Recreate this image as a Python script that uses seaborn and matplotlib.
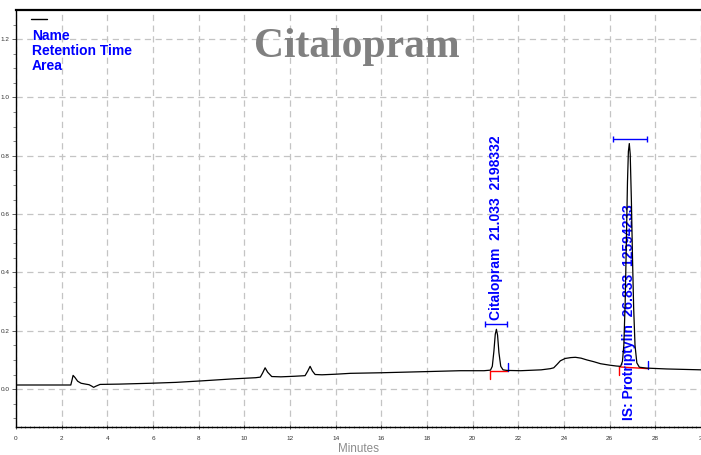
import matplotlib
matplotlib.use("Agg")
import matplotlib.pyplot as plt
import seaborn as sns
import pandas as pd

# Detector trace: retention time (min) and signal (AU)
time_min = [
    0.0, 1.0, 2.0, 2.40, 2.45, 2.50, 2.58, 2.70, 2.85, 3.05, 3.20, 3.32, 3.40, 3.50, 3.68,
    4.5, 5.9, 7.0, 8.1, 9.5, 10.5, 10.70, 10.80, 10.91, 11.02, 11.20, 11.6, 12.2, 12.66,
    12.78, 12.88, 12.98, 13.10, 13.4, 14.0, 14.64, 16.0, 18.0, 19.46, 20.5, 20.78,
    20.86, 20.93, 20.99, 21.04, 21.09, 21.15, 21.23, 21.33, 21.50, 22.1, 23.0, 23.4,
    23.55, 23.70, 23.84, 24.05, 24.30, 24.50, 24.75, 25.00, 25.30, 25.60, 26.00, 26.30,
    26.48, 26.56, 26.62, 26.68, 26.73, 26.78, 26.82, 26.86, 26.90, 26.95, 27.00, 27.05,
    27.11, 27.19, 27.30, 27.6, 28.5, 30.0,
]
signal_au = [
    0.014, 0.014, 0.014, 0.014, 0.030, 0.047, 0.040, 0.027, 0.020, 0.017, 0.015, 0.010, 0.006, 0.010, 0.016,
    0.017, 0.020, 0.023, 0.028, 0.035, 0.039, 0.041, 0.055, 0.073, 0.058, 0.043, 0.042, 0.044, 0.046,
    0.062, 0.078, 0.062, 0.050, 0.049, 0.051, 0.054, 0.056, 0.060, 0.063, 0.063, 0.065,
    0.078, 0.130, 0.188, 0.205, 0.185, 0.125, 0.078, 0.066, 0.064, 0.063, 0.066, 0.070,
    0.073, 0.085, 0.097, 0.105, 0.108, 0.109, 0.106, 0.100, 0.094, 0.087, 0.082, 0.079,
    0.078, 0.095, 0.150, 0.300, 0.500, 0.710, 0.815, 0.842, 0.805, 0.650, 0.450, 0.280,
    0.150, 0.090, 0.075, 0.072, 0.069, 0.066,
]

# Integrated peaks
peak_names = ["Citalopram", "IS: Protriptylin"]
peak_rt = [21.033, 26.833]
peak_area = [2198332, 12594233]
peak_start = [20.77, 26.42]
peak_end = [21.56, 27.70]
peak_start_y = [0.063, 0.076]
peak_end_y = [0.063, 0.070]
width_bar_lo = [20.55, 26.16]
width_bar_hi = [21.52, 27.65]
width_bar_y = [0.222, 0.858]
label_y = [0.237, -0.106]

x_ticks = list(range(0, 31, 2))
y_ticks = [0.0, 0.2, 0.4, 0.6, 0.8, 1.0, 1.2]

trace = pd.DataFrame({"Minutes": time_min, "AU": signal_au})

sns.set_style("white")
plt.rcParams["font.family"] = ["Liberation Sans", "DejaVu Sans"]
plt.rcParams["lines.scale_dashes"] = False

fig = plt.figure(figsize=(7.01, 4.55), dpi=100)
ax = fig.add_axes([16 / 701, 28.3 / 455, 685 / 701, 416.7 / 455])

sns.lineplot(data=trace, x="Minutes", y="AU", sort=False, color="black",
             linewidth=0.9, ax=ax, zorder=6)

ax.set_xlim(0, 30)
ax.set_ylim(-0.129, 1.30)
ax.set_xticks(x_ticks)
ax.set_xticklabels([str(t) if t < 30 else "3" for t in x_ticks])
ax.set_yticks(y_ticks)
ax.set_yticklabels([f"{v:.1f}" for v in y_ticks])
ax.set_xticks([i * 0.2 for i in range(151)], minor=True)
ax.set_yticks([-0.1 + i * 0.05 for i in range(28)], minor=True)

ax.grid(True, which="major", color="#c4c4c4", linewidth=0.9,
        linestyle=(0, (4.5, 3.2)), zorder=0)
ax.tick_params(axis="both", which="major", labelsize=4.6, labelcolor="#333333",
               length=3, width=0.6, color="#444444")
ax.tick_params(axis="x", which="both", direction="inout", pad=5)
ax.tick_params(axis="y", which="both", direction="out", pad=1.5)
ax.tick_params(axis="both", which="minor", length=2, width=0.5, color="#555555")
ax.tick_params(bottom=True, left=True, which="both")

for side in ["left", "bottom"]:
    ax.spines[side].set_color("black")
    ax.spines[side].set_linewidth(1.0)
ax.spines["top"].set_color("black")
ax.spines["top"].set_linewidth(1.6)
ax.spines["right"].set_visible(False)

ax.set_xlabel("")
ax.set_ylabel("")
fig.text(358 / 701, 1 - 449 / 455, "Minutes", ha="center", va="center",
         fontsize=8.4, color="#8c8c8c")

# Peak markers: width bar, baseline, start/end ticks, label
for i, name in enumerate(peak_names):
    ax.errorbar([(width_bar_lo[i] + width_bar_hi[i]) / 2], [width_bar_y[i]],
                xerr=[[(width_bar_hi[i] - width_bar_lo[i]) / 2]], fmt="none",
                ecolor="blue", elinewidth=1.0, capsize=2.5, capthick=1.0, zorder=4)
    ax.plot([peak_start[i], peak_end[i]], [peak_start_y[i], peak_end_y[i]],
            color="red", linewidth=1.0, zorder=2)
    ax.plot([peak_start[i], peak_start[i]], [peak_start_y[i], peak_start_y[i] - 0.027],
            color="red", linewidth=1.0, zorder=2)
    ax.plot([peak_end[i], peak_end[i]], [peak_end_y[i], peak_end_y[i] + 0.027],
            color="blue", linewidth=1.0, zorder=2)
    ax.text(peak_rt[i], label_y[i], f"{name}  {peak_rt[i]:.3f}  {peak_area[i]}",
            rotation=90, ha="center", va="bottom", fontsize=10,
            fontweight="bold", color="blue", zorder=5)

# Legend of label fields
ax.plot([0.022, 0.045], [0.978, 0.978], transform=ax.transAxes,
        color="black", linewidth=1.0, clip_on=False)
for j, field in enumerate(["Name", "Retention Time", "Area"]):
    fig.text(32 / 701, 1 - (40 + 15 * j) / 455, field, ha="left", va="baseline",
             fontsize=10, fontweight="bold", color="blue")

fig.text(357 / 701, 1 - 57 / 455, "Citalopram", ha="center", va="baseline",
         fontsize=30, fontweight="bold", color="#808080",
         family=["Liberation Serif", "DejaVu Serif"])

fig.savefig("out.png", dpi=100)
